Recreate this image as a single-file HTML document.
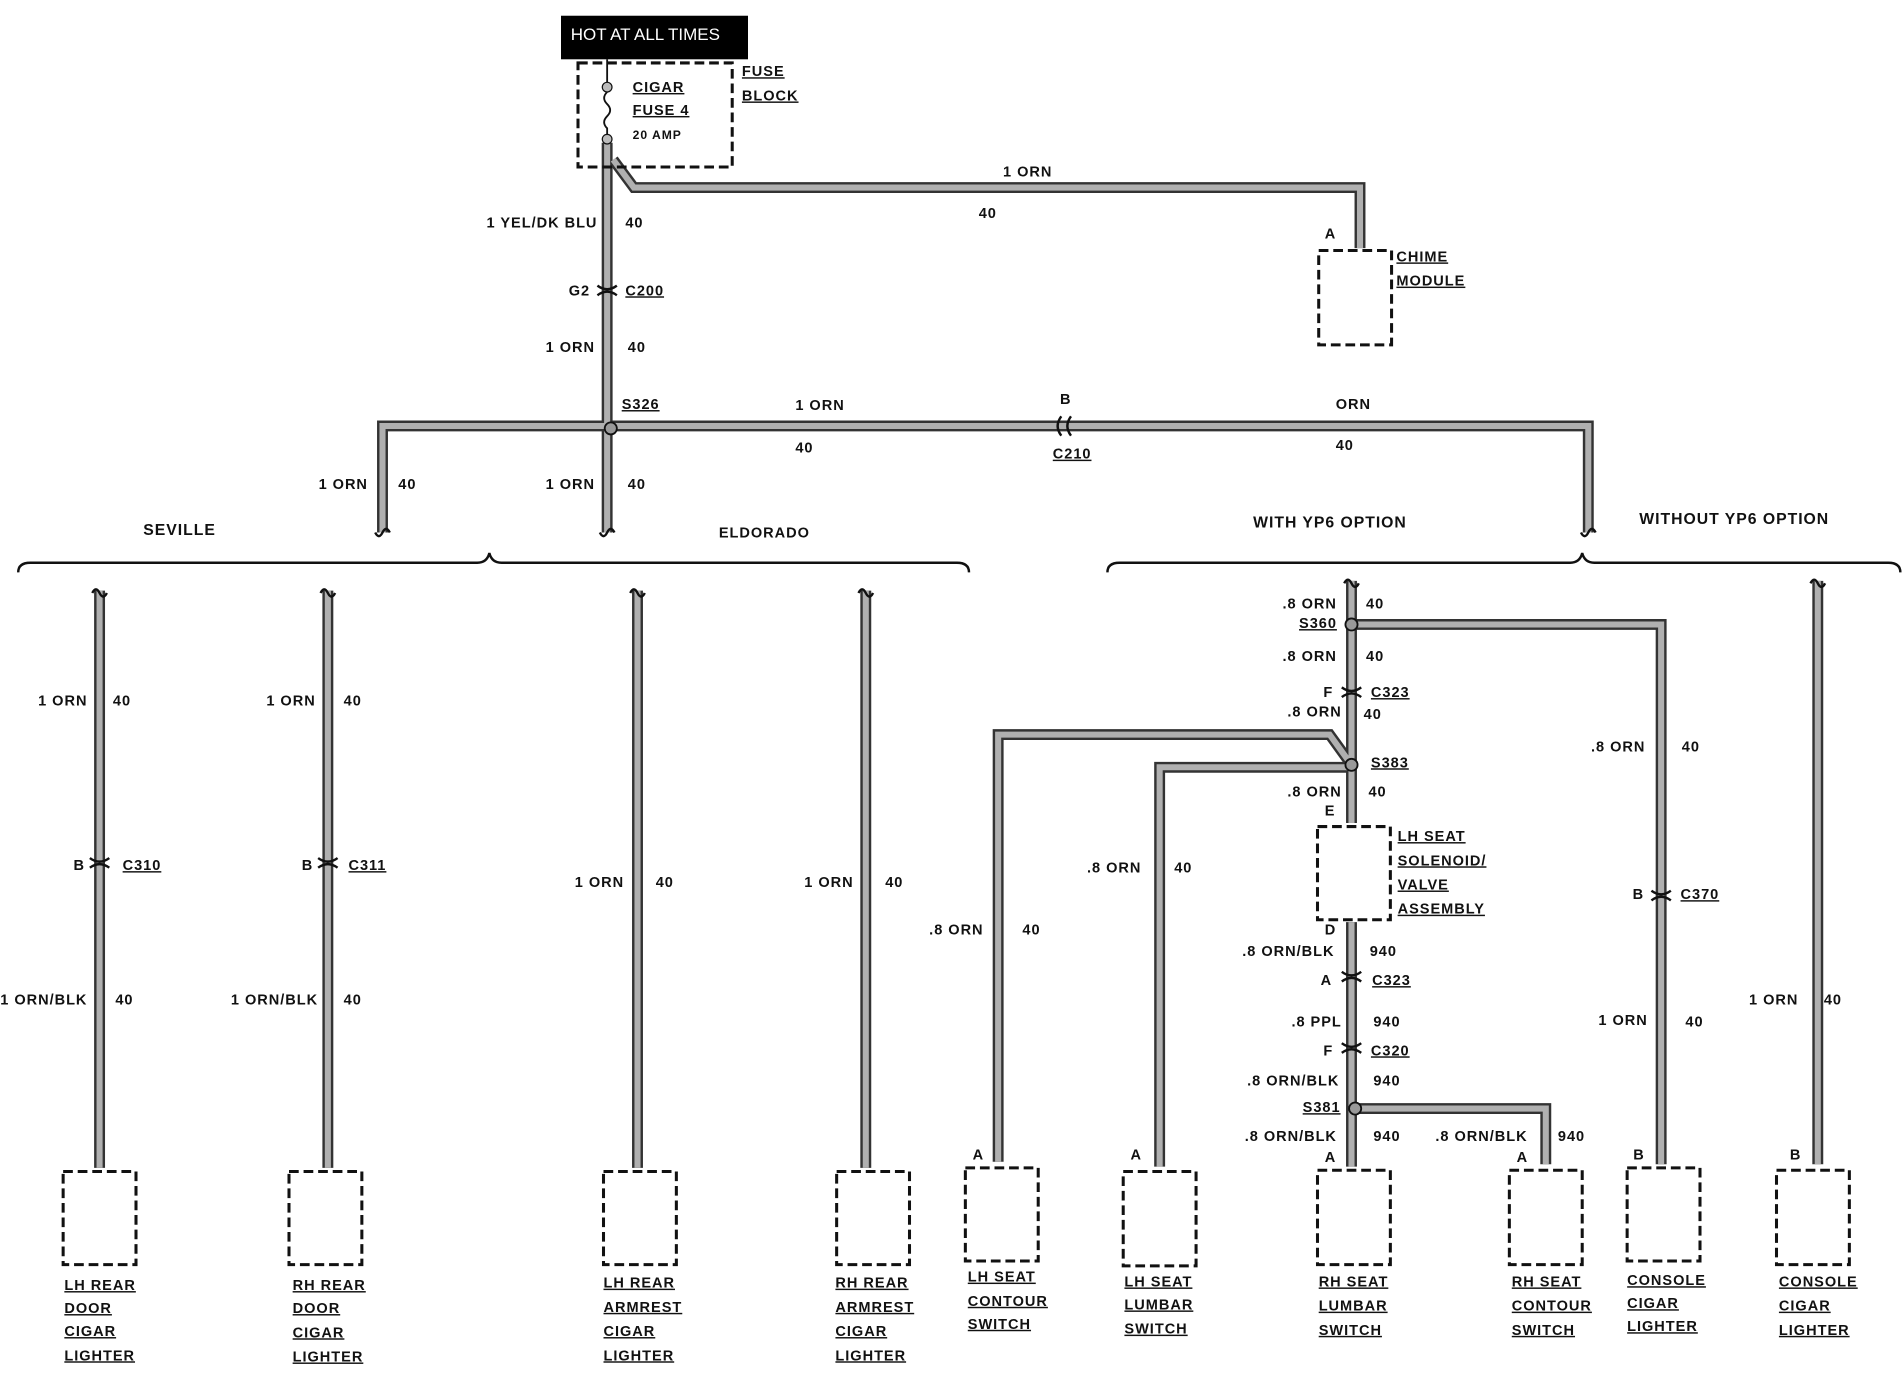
<!DOCTYPE html>
<html><head><meta charset="utf-8"><style>
html,body{margin:0;padding:0;background:#fff;}
svg{display:block;}
text{font-family:"Liberation Sans",sans-serif;font-weight:bold;font-size:12px;fill:#111;letter-spacing:0.8px;}
.u{text-decoration:underline;}
.r{text-anchor:end;}
.box{fill:none;stroke:#111;stroke-width:2.5;stroke-dasharray:8,4;}
</style></head><body>
<svg width="1904" height="1376" viewBox="0 0 1568 1137" preserveAspectRatio="none" xmlns="http://www.w3.org/2000/svg">
<defs>
<g id="wires" fill="none">
<path d="M500 118 V440"/>
<path d="M505 132 L522 155 H1120 V205"/>
<path d="M315 440 V352 H1308 V440"/>
<path d="M82 488 V965"/><path d="M270 488 V965"/><path d="M525 488 V965"/><path d="M713 488 V965"/>
<path d="M1113 480 V680"/><path d="M1113 516 H1368 V962"/>
<path d="M1113 632 L1095 607 H822 V960"/>
<path d="M1113 634 H955 V964"/>
<path d="M1113 762 V964"/>
<path d="M1116 916 H1273 V962"/>
<path d="M1497 480 V962"/>
</g>
</defs>
<use href="#wires" stroke="#333" stroke-width="9"/>
<use href="#wires" stroke="#b0b0b0" stroke-width="5"/>

<rect x="462" y="13" width="154" height="36" fill="#000"/>
<text x="470" y="33" style="fill:#fff;font-weight:normal;font-size:14px;letter-spacing:0">HOT AT ALL TIMES</text>
<rect class="box" x="476" y="52" width="127" height="86"/>
<path d="M500 49 V68 M500 76 q-5 5 0 10 q5 5 0 10 q-5 5 0 10 V118" stroke="#111" stroke-width="1.5" fill="none"/>
<circle cx="500" cy="72" r="4" fill="#bbb" stroke="#111"/><circle cx="500" cy="115" r="4" fill="#bbb" stroke="#111"/>
<text x="521" y="76" class="u">CIGAR</text><text x="521" y="95" class="u">FUSE 4</text><text x="521" y="115" style="font-size:10px">20 AMP</text>
<text x="611" y="63" class="u">FUSE</text><text x="611" y="83" class="u">BLOCK</text>

<text x="826" y="146">1 ORN</text><text x="806" y="180">40</text>
<text x="1091" y="197">A</text>
<rect class="box" x="1086" y="207" width="60" height="78"/>
<text x="1150" y="216" class="u">CHIME</text><text x="1150" y="236" class="u">MODULE</text>

<text x="492" y="188" class="r">1 YEL/DK BLU</text><text x="515" y="188">40</text>
<path d="M492 236 q8 6 16 0 M492 244 q8 -6 16 0" stroke="#111" stroke-width="2" fill="none"/>
<text x="486" y="244" class="r">G2</text><text x="515" y="244" class="u">C200</text>
<text x="490" y="291" class="r">1 ORN</text><text x="517" y="291">40</text>
<circle cx="503" cy="354" r="5" fill="#999" stroke="#111" stroke-width="1.5"/>
<text x="512" y="338" class="u">S326</text>
<text x="655" y="339">1 ORN</text><text x="655" y="374">40</text>
<path d="M874 344 q-6 8 0 16 M882 344 q-6 8 0 16" stroke="#111" stroke-width="2" fill="none"/>
<text x="873" y="334">B</text><text x="867" y="379" class="u">C210</text>
<text x="1100" y="338">ORN</text><text x="1100" y="372">40</text>
<text x="303" y="404" class="r">1 ORN</text><text x="328" y="404">40</text>
<text x="490" y="404" class="r">1 ORN</text><text x="517" y="404">40</text>

<g stroke="#111" stroke-width="2" fill="none">
<path d="M309 440 q3 6 6 0 q3 -6 6 0 M494 440 q3 6 6 0 q3 -6 6 0 M1302 440 q3 6 6 0 q3 -6 6 0"/>
<path d="M15 473 q0 -8 10 -8 H393 q8 0 10 -8 q2 8 10 8 H788 q10 0 10 8"/>
<path d="M912 473 q0 -8 10 -8 H1293 q8 0 10 -8 q2 8 10 8 H1555 q10 0 10 8"/>
</g>
<text x="118" y="442" style="font-size:13px">SEVILLE</text>
<text x="592" y="444">ELDORADO</text>
<text x="1032" y="436" style="font-size:13px">WITH YP6 OPTION</text>
<text x="1350" y="433" style="font-size:13px">WITHOUT YP6 OPTION</text>

<g stroke="#111" stroke-width="2" fill="none">
<path d="M76 490 q3 -6 6 0 q3 6 6 0 M264 490 q3 -6 6 0 q3 6 6 0 M519 490 q3 -6 6 0 q3 6 6 0 M707 490 q3 -6 6 0 q3 6 6 0 M1107 482 q3 -6 6 0 q3 6 6 0 M1491 482 q3 -6 6 0 q3 6 6 0"/>
<path d="M74 709 q8 6 16 0 M74 717 q8 -6 16 0 M262 709 q8 6 16 0 M262 717 q8 -6 16 0"/>
<path d="M1105 568 q8 6 16 0 M1105 576 q8 -6 16 0 M1105 803 q8 6 16 0 M1105 811 q8 -6 16 0 M1105 862 q8 6 16 0 M1105 870 q8 -6 16 0 M1360 736 q8 6 16 0 M1360 744 q8 -6 16 0"/>
</g>
<g fill="#999" stroke="#111" stroke-width="1.5">
<circle cx="1113" cy="516" r="5"/><circle cx="1113" cy="632" r="5"/><circle cx="1116" cy="916" r="5"/>
</g>

<text x="72" y="583" class="r">1 ORN</text><text x="93" y="583">40</text>
<text x="70" y="719" class="r">B</text><text x="101" y="719" class="u">C310</text>
<text x="72" y="830" class="r">1 ORN/BLK</text><text x="95" y="830">40</text>
<text x="260" y="583" class="r">1 ORN</text><text x="283" y="583">40</text>
<text x="258" y="719" class="r">B</text><text x="287" y="719" class="u">C311</text>
<text x="262" y="830" class="r">1 ORN/BLK</text><text x="283" y="830">40</text>
<text x="514" y="733" class="r">1 ORN</text><text x="540" y="733">40</text>
<text x="703" y="733" class="r">1 ORN</text><text x="729" y="733">40</text>

<rect class="box" x="52" y="968" width="60" height="77"/>
<rect class="box" x="238" y="968" width="60" height="77"/>
<rect class="box" x="497" y="968" width="60" height="77"/>
<rect class="box" x="689" y="968" width="60" height="77"/>
<rect class="box" x="795" y="965" width="60" height="77"/>
<rect class="box" x="925" y="968" width="60" height="78"/>
<rect class="box" x="1085" y="967" width="60" height="78"/>
<rect class="box" x="1243" y="967" width="60" height="78"/>
<rect class="box" x="1340" y="965" width="60" height="77"/>
<rect class="box" x="1463" y="967" width="60" height="78"/>
<rect class="box" x="1085" y="683" width="60" height="77"/>

<g>
<text x="53" y="1066" class="u">LH REAR</text><text x="53" y="1085" class="u">DOOR</text><text x="53" y="1104" class="u">CIGAR</text><text x="53" y="1124" class="u">LIGHTER</text>
<text x="241" y="1066" class="u">RH REAR</text><text x="241" y="1085" class="u">DOOR</text><text x="241" y="1105" class="u">CIGAR</text><text x="241" y="1125" class="u">LIGHTER</text>
<text x="497" y="1064" class="u">LH REAR</text><text x="497" y="1084" class="u">ARMREST</text><text x="497" y="1104" class="u">CIGAR</text><text x="497" y="1124" class="u">LIGHTER</text>
<text x="688" y="1064" class="u">RH REAR</text><text x="688" y="1084" class="u">ARMREST</text><text x="688" y="1104" class="u">CIGAR</text><text x="688" y="1124" class="u">LIGHTER</text>
<text x="797" y="1059" class="u">LH SEAT</text><text x="797" y="1079" class="u">CONTOUR</text><text x="797" y="1098" class="u">SWITCH</text>
<text x="926" y="1063" class="u">LH SEAT</text><text x="926" y="1082" class="u">LUMBAR</text><text x="926" y="1102" class="u">SWITCH</text>
<text x="1086" y="1063" class="u">RH SEAT</text><text x="1086" y="1083" class="u">LUMBAR</text><text x="1086" y="1103" class="u">SWITCH</text>
<text x="1245" y="1063" class="u">RH SEAT</text><text x="1245" y="1083" class="u">CONTOUR</text><text x="1245" y="1103" class="u">SWITCH</text>
<text x="1340" y="1062" class="u">CONSOLE</text><text x="1340" y="1081" class="u">CIGAR</text><text x="1340" y="1100" class="u">LIGHTER</text>
<text x="1465" y="1063" class="u">CONSOLE</text><text x="1465" y="1083" class="u">CIGAR</text><text x="1465" y="1103" class="u">LIGHTER</text>
</g>

<text x="1101" y="503" class="r">.8 ORN</text><text x="1125" y="503">40</text>
<text x="1101" y="519" class="r u">S360</text>
<text x="1101" y="546" class="r">.8 ORN</text><text x="1125" y="546">40</text>
<text x="1098" y="576" class="r">F</text><text x="1129" y="576" class="u">C323</text>
<text x="1105" y="592" class="r">.8 ORN</text><text x="1123" y="594">40</text>
<text x="1129" y="634" class="u">S383</text>
<text x="1105" y="658" class="r">.8 ORN</text><text x="1127" y="658">40</text>
<text x="1091" y="674">E</text>
<text x="1151" y="695" class="u">LH SEAT</text><text x="1151" y="715" class="u">SOLENOID/</text><text x="1151" y="735" class="u">VALVE</text><text x="1151" y="755" class="u">ASSEMBLY</text>
<text x="1091" y="772">D</text>
<text x="1099" y="790" class="r">.8 ORN/BLK</text><text x="1128" y="790">940</text>
<text x="1097" y="814" class="r">A</text><text x="1130" y="814" class="u">C323</text>
<text x="1105" y="848" class="r">.8 PPL</text><text x="1131" y="848">940</text>
<text x="1098" y="872" class="r">F</text><text x="1129" y="872" class="u">C320</text>
<text x="1103" y="897" class="r">.8 ORN/BLK</text><text x="1131" y="897">940</text>
<text x="1104" y="919" class="r u">S381</text>
<text x="1101" y="943" class="r">.8 ORN/BLK</text><text x="1131" y="943">940</text>
<text x="1258" y="943" class="r">.8 ORN/BLK</text><text x="1283" y="943">940</text>
<text x="1091" y="960">A</text><text x="1249" y="960">A</text><text x="801" y="958">A</text><text x="931" y="958">A</text><text x="1345" y="958">B</text><text x="1474" y="958">B</text>
<text x="810" y="772" class="r">.8 ORN</text><text x="842" y="772">40</text>
<text x="940" y="721" class="r">.8 ORN</text><text x="967" y="721">40</text>
<text x="1355" y="621" class="r">.8 ORN</text><text x="1385" y="621">40</text>
<text x="1354" y="743" class="r">B</text><text x="1384" y="743" class="u">C370</text>
<text x="1357" y="847" class="r">1 ORN</text><text x="1388" y="848">40</text>
<text x="1481" y="830" class="r">1 ORN</text><text x="1502" y="830">40</text>
</svg>
</body></html>
